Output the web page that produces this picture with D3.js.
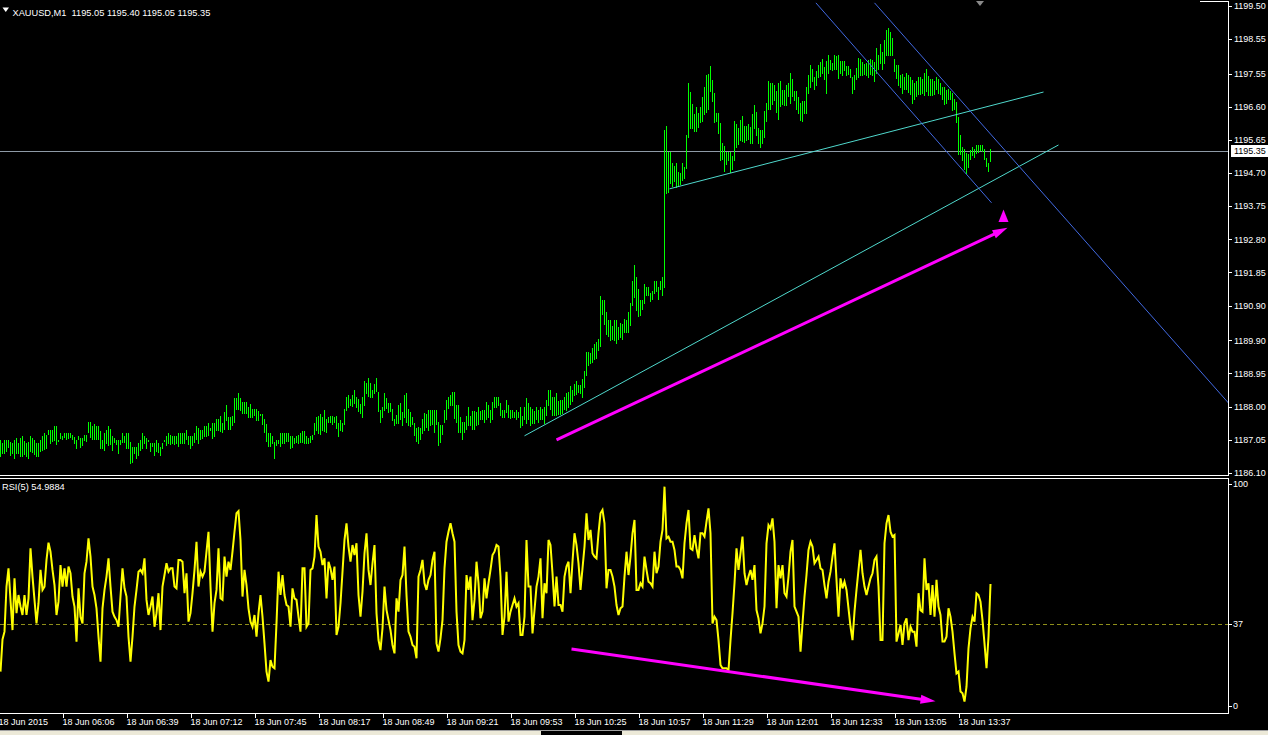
<!DOCTYPE html>
<html><head><meta charset="utf-8">
<script src="https://cdn.jsdelivr.net/npm/d3@7"></script>
<style>
html,body{margin:0;padding:0;background:#000;overflow:hidden}
svg{display:block}
text{font-family:"Liberation Sans",Arial,sans-serif;font-size:9px;fill:#fff;white-space:pre}
</style></head><body>
<svg id="c" width="1268" height="735"></svg>
<script>
// ---------------- DATA ----------------
const symbol = "XAUUSD,M1";
const lastOHLC = [1195.05, 1195.40, 1195.05, 1195.35];
const rsiName = "RSI(5)";
const rsiLast = "54.9884";

const highs = [
1187.04,1186.96,1187.04,1187.04,1187.04,1186.98,1186.96,1187.04,1187.10,1186.96,
1187.10,1187.15,1187.00,1186.96,1186.98,1187.15,1187.10,1187.04,1186.96,1186.96,
1187.04,1187.15,1187.23,1187.17,1187.34,1187.34,1187.34,1187.44,1187.44,1187.04,
1187.23,1187.15,1187.23,1187.23,1187.23,1187.23,1187.17,1187.13,1187.04,1187.15,
1187.10,1187.10,1187.17,1187.17,1187.57,1187.57,1187.44,1187.50,1187.44,1187.44,
1187.29,1187.04,1187.23,1187.34,1187.44,1187.36,1187.15,1187.10,1187.04,1187.04,
1187.04,1187.23,1187.15,1187.23,1187.23,1186.98,1186.83,1186.83,1186.83,1186.94,
1187.04,1187.23,1187.15,1187.10,1187.04,1186.94,1186.94,1186.96,1187.04,1186.96,
1186.83,1186.94,1187.04,1187.15,1187.23,1187.17,1187.15,1187.15,1187.15,1187.23,
1187.23,1187.23,1187.23,1187.34,1187.15,1187.15,1187.15,1187.23,1187.44,1187.38,
1187.34,1187.34,1187.44,1187.44,1187.52,1187.38,1187.52,1187.52,1187.63,1187.63,
1187.73,1187.54,1187.84,1188.03,1187.69,1187.69,1187.73,1188.24,1188.24,1188.38,
1188.24,1188.13,1188.13,1188.13,1187.98,1188.07,1187.92,1187.92,1187.92,1187.88,
1187.78,1187.78,1187.63,1187.50,1187.25,1187.25,1187.15,1186.98,1187.04,1187.04,
1187.23,1187.23,1187.23,1187.23,1187.23,1187.15,1187.15,1187.10,1187.15,1187.17,
1187.25,1187.31,1187.29,1187.15,1187.10,1187.15,1187.17,1187.52,1187.69,1187.73,
1187.78,1187.69,1187.90,1187.63,1187.69,1187.73,1187.73,1187.71,1187.73,1187.54,
1187.61,1187.54,1187.92,1188.26,1188.32,1188.21,1188.34,1188.47,1188.26,1188.22,
1188.07,1188.28,1188.72,1188.67,1188.82,1188.68,1188.47,1188.65,1188.82,1188.42,
1187.90,1187.98,1188.38,1188.24,1188.11,1188.09,1187.92,1187.65,1187.75,1188.03,
1188.11,1187.84,1188.32,1188.38,1187.92,1187.84,1187.69,1187.54,1187.38,1187.42,
1187.38,1187.65,1187.80,1187.78,1187.90,1187.90,1187.90,1187.90,1187.90,1187.55,
1187.46,1187.46,1187.90,1188.19,1188.26,1188.34,1188.43,1188.43,1188.05,1188.03,
1187.71,1187.55,1187.55,1187.73,1188.00,1187.73,1187.86,1187.88,1187.84,1187.98,
1187.88,1187.90,1187.90,1188.13,1188.05,1187.90,1188.13,1188.28,1188.26,1188.26,
1188.09,1187.90,1187.90,1188.19,1188.05,1187.90,1187.90,1187.84,1187.90,1187.84,
1187.98,1187.73,1187.98,1188.24,1188.09,1187.98,1187.92,1187.88,1187.98,1187.90,
1187.98,1187.92,1187.98,1188.19,1188.47,1188.47,1188.28,1188.28,1188.38,1188.15,
1188.19,1188.19,1188.26,1188.40,1188.43,1188.59,1188.47,1188.65,1188.72,1188.63,
1188.63,1188.80,1189.01,1189.57,1189.57,1189.53,1189.68,1189.80,1189.85,1189.93,
1191.17,1191.06,1191.06,1190.71,1190.48,1190.48,1190.31,1190.48,1190.48,1190.27,
1190.41,1190.37,1190.52,1190.48,1190.71,1190.96,1191.59,1192.05,1191.71,1191.37,
1191.06,1191.06,1191.52,1191.44,1191.42,1191.27,1191.33,1191.59,1191.59,1191.44,
1191.59,1191.71,1195.95,1196.05,1195.31,1195.31,1194.98,1194.92,1194.98,1194.73,
1194.70,1194.98,1194.87,1195.79,1197.28,1197.03,1196.69,1196.40,1196.59,1196.44,
1196.59,1196.90,1197.16,1197.51,1197.55,1197.78,1197.38,1196.99,1196.44,1196.44,
1196.15,1195.58,1195.48,1195.31,1195.31,1195.31,1195.19,1196.21,1196.11,1196.00,
1196.23,1196.34,1196.05,1196.05,1196.11,1196.04,1196.40,1196.67,1196.46,1196.00,
1195.94,1195.94,1196.48,1196.71,1197.34,1197.30,1197.28,1197.24,1197.05,1197.30,
1197.36,1197.09,1197.09,1197.24,1197.28,1197.57,1197.39,1197.07,1197.07,1196.90,
1196.71,1196.76,1196.78,1197.18,1197.51,1197.82,1197.70,1197.47,1197.64,1197.82,
1197.89,1197.97,1197.74,1197.91,1198.08,1197.95,1197.85,1198.08,1198.06,1198.08,
1197.93,1197.91,1197.91,1197.78,1197.78,1197.68,1197.45,1197.53,1197.72,1198.01,
1197.97,1197.89,1197.83,1197.85,1197.95,1197.99,1197.95,1197.89,1198.30,1198.08,
1198.41,1198.18,1198.52,1198.81,1198.87,1198.75,1198.58,1197.97,1197.80,1197.80,
1197.51,1197.55,1197.47,1197.57,1197.53,1197.45,1197.38,1197.28,1197.34,1197.45,
1197.47,1197.41,1197.57,1197.68,1197.49,1197.39,1197.41,1197.34,1197.45,1197.41,
1197.28,1197.16,1197.16,1197.09,1197.13,1197.05,1196.99,1196.84,1196.74,1196.32,
1195.79,1195.46,1195.40,1195.27,1195.25,1195.37,1195.46,1195.40,1195.52,1195.52,
1195.50,1195.50,1195.40,1195.14,1195.00,1195.40
];
const lows = [
1186.58,1186.66,1186.67,1186.73,1186.83,1186.62,1186.67,1186.52,1186.67,1186.67,
1186.58,1186.58,1186.64,1186.58,1186.52,1186.73,1186.69,1186.64,1186.58,1186.58,
1186.73,1186.75,1186.79,1186.81,1187.21,1186.96,1187.00,1187.04,1186.92,1187.00,
1187.11,1187.06,1187.13,1187.06,1187.11,1187.13,1187.08,1186.96,1186.81,1187.06,
1186.83,1186.89,1187.04,1187.02,1187.27,1187.13,1187.06,1187.08,1187.06,1187.06,
1186.81,1186.81,1186.75,1186.96,1186.89,1186.92,1186.75,1186.98,1186.92,1186.67,
1186.92,1186.98,1186.98,1186.81,1186.81,1186.39,1186.41,1186.66,1186.52,1186.60,
1186.75,1186.81,1186.96,1186.81,1187.00,1186.73,1186.87,1186.60,1186.73,1186.69,
1186.60,1186.81,1187.00,1186.89,1186.96,1186.92,1186.94,1186.92,1186.94,1186.87,
1186.94,1186.96,1186.94,1187.06,1186.92,1186.81,1186.89,1186.98,1187.06,1186.94,
1187.08,1187.11,1187.15,1187.15,1187.19,1187.34,1187.11,1187.15,1187.33,1187.33,
1187.29,1187.27,1187.36,1187.61,1187.36,1187.36,1187.48,1187.55,1187.94,1187.94,
1187.90,1187.80,1187.80,1187.80,1187.71,1187.71,1187.71,1187.75,1187.61,1187.61,
1187.75,1187.50,1187.27,1187.02,1186.87,1186.87,1186.96,1186.52,1186.89,1186.94,
1186.87,1186.96,1186.96,1187.02,1187.00,1186.81,1186.83,1186.94,1186.98,1186.96,
1186.98,1186.98,1186.96,1186.96,1186.96,1186.98,1187.08,1187.21,1187.33,1187.25,
1187.21,1187.33,1187.31,1187.27,1187.55,1187.55,1187.50,1187.55,1187.38,1187.15,
1187.33,1187.31,1187.50,1187.90,1187.99,1188.05,1188.01,1188.11,1187.99,1187.86,
1187.80,1187.71,1188.03,1188.38,1188.30,1188.26,1188.28,1188.38,1188.45,1187.86,
1187.55,1187.71,1187.90,1187.96,1187.84,1187.88,1187.61,1187.48,1187.52,1187.52,
1187.65,1187.46,1187.71,1187.55,1187.48,1187.44,1187.50,1187.17,1187.02,1186.94,
1187.08,1187.25,1187.33,1187.42,1187.33,1187.46,1187.50,1187.27,1187.50,1186.89,
1186.98,1187.21,1187.55,1187.65,1187.96,1188.03,1188.03,1187.67,1187.57,1187.27,
1187.27,1187.08,1187.27,1187.36,1187.48,1187.48,1187.36,1187.36,1187.46,1187.50,
1187.63,1187.65,1187.55,1187.63,1187.71,1187.57,1187.65,1187.98,1188.00,1188.05,
1187.77,1187.69,1187.69,1187.84,1187.69,1187.67,1187.69,1187.69,1187.65,1187.69,
1187.40,1187.46,1187.63,1187.52,1187.63,1187.48,1187.54,1187.52,1187.63,1187.55,
1187.65,1187.65,1187.52,1187.77,1188.03,1187.92,1187.77,1187.77,1187.77,1187.78,
1187.78,1187.80,1187.92,1187.90,1188.00,1188.07,1188.15,1188.34,1188.36,1188.42,
1188.38,1188.28,1188.55,1188.91,1189.18,1189.24,1189.28,1189.36,1189.39,1189.62,
1189.74,1190.66,1190.37,1190.08,1190.03,1189.91,1189.93,1189.91,1189.81,1189.93,
1189.99,1189.95,1190.14,1190.14,1190.14,1190.33,1190.91,1191.15,1190.77,1190.60,
1190.64,1190.81,1190.98,1191.21,1191.21,1191.02,1191.08,1191.27,1191.31,1191.10,
1191.37,1191.21,1191.44,1194.14,1194.16,1194.43,1194.33,1194.47,1194.31,1194.33,
1194.39,1194.50,1194.56,1194.85,1195.73,1196.00,1196.00,1195.90,1195.92,1196.04,
1196.17,1196.19,1196.40,1196.46,1196.55,1197.07,1196.78,1196.17,1196.19,1195.86,
1195.08,1195.12,1194.77,1194.96,1195.08,1194.73,1194.83,1195.08,1195.44,1195.54,
1195.65,1195.63,1195.59,1195.65,1195.67,1195.58,1195.56,1196.00,1195.81,1195.56,
1195.44,1195.56,1195.75,1196.21,1196.53,1196.53,1196.69,1196.80,1196.46,1196.26,
1196.63,1196.69,1196.65,1196.67,1196.92,1196.71,1196.92,1196.80,1196.53,1196.44,
1196.23,1196.21,1196.42,1196.42,1196.99,1197.18,1197.34,1197.11,1197.22,1197.47,
1197.49,1197.57,1197.39,1197.01,1197.59,1197.70,1197.66,1197.68,1197.70,1197.43,
1197.57,1197.53,1197.66,1197.53,1197.55,1197.47,1197.01,1197.13,1197.39,1197.47,
1197.53,1197.51,1197.55,1197.51,1197.45,1197.55,1197.51,1197.34,1197.57,1197.70,
1197.85,1197.68,1197.85,1198.08,1198.08,1198.08,1198.10,1197.62,1197.43,1197.24,
1197.16,1196.99,1197.13,1197.13,1197.03,1196.97,1196.72,1196.84,1196.92,1196.97,
1196.97,1196.99,1196.94,1197.05,1196.95,1196.95,1196.95,1196.97,1197.11,1196.99,
1196.97,1196.82,1196.69,1196.72,1196.82,1196.84,1196.51,1196.53,1196.17,1195.25,
1195.25,1195.08,1194.83,1194.70,1194.89,1195.12,1195.23,1195.17,1195.27,1195.31,
1195.37,1195.33,1195.12,1194.92,1194.77,1195.05
];
const rsi = [
15.5,30.0,33.5,53.8,62.0,47.7,34.2,57.5,41.8,50.0,
44.8,41.0,50.0,41.0,48.5,71.0,58.3,47.8,37.2,46.3,
61.3,52.3,53.8,65.8,73.6,69.5,61.3,54.5,41.0,47.0,
63.5,53.8,62.0,53.8,62.8,59.8,49.3,44.8,29.0,53.0,
40.2,37.2,59.8,65.0,75.5,67.3,53.8,50.0,44.0,31.2,
20.0,44.0,52.3,58.3,66.5,53.8,42.5,40.2,38.7,35.7,
49.3,62.0,53.0,49.3,31.2,20.0,31.2,44.8,52.3,60.5,
61.3,59.8,66.5,47.8,41.0,44.8,49.3,35.7,41.8,50.8,
34.2,53.8,59.0,64.3,60.5,62.0,62.0,53.8,53.0,65.8,
65.8,65.0,50.8,59.8,38.0,41.8,50.8,61.3,74.0,53.8,
60.5,58.3,60.5,69.5,78.5,53.8,33.5,46.3,52.3,71.0,
48.5,47.8,67.3,58.3,65.0,61.3,69.5,78.5,86.8,87.8,
74.8,49.3,61.3,54.5,44.0,38.0,35.7,41.0,31.2,41.8,
50.0,40.2,28.2,15.5,11.0,20.7,17.7,17.0,37.2,60.5,
50.0,59.0,50.0,45.5,44.8,35.7,53.0,48.5,47.8,40.2,
33.5,62.0,62.0,35.7,37.2,61.3,62.0,67.3,86.0,71.8,
69.5,63.5,66.5,48.5,65.0,62.0,56.8,62.8,32.0,35.7,
46.3,60.5,74.8,82.3,71.8,65.0,72.5,68.0,73.3,50.0,
40.2,51.5,68.8,77.8,61.3,54.5,64.3,72.5,41.8,29.7,
25.2,35.0,53.8,43.3,38.7,34.2,27.5,23.7,48.5,42.5,
56.8,59.0,71.8,50.0,33.5,31.2,27.5,26.7,21.5,58.3,
61.3,65.8,55.3,52.3,56.8,59.0,65.8,69.5,28.2,24.5,
30.5,38.7,62.0,74.0,78.5,82.3,77.8,74.0,42.5,27.5,
24.5,23.7,29.7,59.0,52.3,58.3,38.7,47.8,65.0,55.3,
39.5,42.5,57.5,48.5,55.3,61.3,
68.0,69.5,72.5,71.8,58.3,32.0,40.2,60.5,38.0,42.5,
45.5,48.5,44.8,46.3,32.0,32.0,40.2,74.8,53.8,53.8,
32.7,43.2,53.8,58.3,66.5,39.5,55.3,50.8,74.8,72.5,
59.8,44.8,58.3,45.5,45.5,42.5,58.3,62.8,65.0,50.8,
65.0,77.8,72.5,64.3,52.3,62.0,71.8,86.8,74.8,79.3,
68.8,67.3,66.5,77.8,86.8,88.3,82.3,53.0,61.3,61.3,
58.3,53.8,45.5,41.0,44.0,44.8,58.3,69.5,59.0,67.3,
77.8,83.8,52.3,52.3,55.3,53.8,67.3,61.3,56.0,55.3,
53.8,69.5,59.8,62.8,74.0,79.3,98.8,75.5,76.3,74.0,
74.0,70.3,62.8,62.8,61.3,57.5,73.3,82.3,88.3,71.0,
70.3,77.0,71.0,66.5,77.8,77.8,76.3,83.0,89.0,77.8,
37.2,40.2,38.7,29.7,18.5,17.0,17.0,17.0,16.2,29.7,
41.8,55.3,71.0,61.3,68.8,76.3,59.8,54.5,58.3,61.3,
56.8,63.5,43.2,39.5,32.7,37.2,44.8,73.3,81.5,80.0,
84.5,74.0,44.0,63.5,57.5,63.5,50.8,49.3,58.3,69.5,
74.8,44.8,42.5,40.2,24.5,37.2,49.3,59.0,70.3,74.0,
71.8,64.3,65.8,67.3,62.0,61.3,54.5,48.5,56.0,60.5,
67.3,73.3,56.8,40.2,57.5,53.0,56.0,52.3,44.0,35.7,
29.7,42.5,52.3,61.3,70.3,59.8,53.8,50.0,53.8,57.5,
59.8,65.8,67.3,53.8,29.7,29.7,73.3,82.3,86.0,78.5,
76.3,77.0,29.0,32.7,36.5,27.5,37.2,39.5,29.7,35.7,
33.5,33.5,26.7,50.8,43.2,42.5,66.5,52.3,55.3,41.0,
54.5,40.2,56.8,44.8,41.0,29.0,29.0,31.2,44.0,40.2,
33.5,23.7,14.7,15.5,6.5,5.7,2.0,8.7,26.0,35.0,
40.2,38.0,50.8,50.0,47.0,38.7,28.2,17.0,31.2,54.99
];

const priceTicks = [1199.50,1198.55,1197.55,1196.60,1195.65,1194.70,1193.75,1192.80,1191.85,1190.90,1189.90,1188.95,1188.00,1187.05,1186.10];
const rsiTicks = [100, 37, 0];
const rsiLevel = 37;
const timeLabels = ["18 Jun 2015","18 Jun 06:06","18 Jun 06:39","18 Jun 07:12","18 Jun 07:45","18 Jun 08:17","18 Jun 08:49","18 Jun 09:21","18 Jun 09:53","18 Jun 10:25","18 Jun 10:57","18 Jun 11:29","18 Jun 12:01","18 Jun 12:33","18 Jun 13:05","18 Jun 13:37"];
const timeLabelBars = [-1,31,63,95,127,159,191,223,255,287,319,351,383,415,447,479];

// drawn objects, in (bar index, price) / (bar index, rsi) units
const cyanLines = [[334.5,1194.25,521.5,1197.03],[262,1187.16,529,1195.51]];
const blueLines = [[407.7,1199.59,495.5,1193.85],[437,1199.59,614,1188.10]];
const priceArrow = [278,1187.04,503.5,1193.13];
const rsiArrow = [285.5,25.7,467.5,2.1];
const upMark = [501.5,1193.66,1193.30];

// ---------------- DRAW ----------------
const svg = d3.select("#c");
const R = 1228, mainTop = 2, mainBot = 475, rsiTop = 478, rsiBot = 713;
const x = d3.scaleLinear().domain([0,614]).range([0.5,1228.5]);
const yP = d3.scaleLinear().domain([1186.10,1199.50]).range([472.7,6]);
const yR = d3.scaleLinear().domain([0,100]).range([706,484]);

const defs = svg.append("defs");
defs.append("clipPath").attr("id","cm").append("rect").attr("x",0).attr("y",mainTop).attr("width",R).attr("height",mainBot-mainTop);
defs.append("clipPath").attr("id","cr").append("rect").attr("x",0).attr("y",rsiTop).attr("width",R).attr("height",rsiBot-rsiTop);

svg.append("rect").attr("width",1268).attr("height",735).attr("fill","#000");

const gM = svg.append("g").attr("clip-path","url(#cm)");
const gR = svg.append("g").attr("clip-path","url(#cr)");

// bid line
gM.append("line").attr("x1",0).attr("x2",R).attr("y1",Math.round(yP(lastOHLC[3]))+0.5).attr("y2",Math.round(yP(lastOHLC[3]))+0.5)
  .attr("stroke","#8e9aa6").attr("stroke-width",1);

// bars
gM.selectAll("rect.bar").data(highs).join("rect").attr("class","bar")
  .attr("x",(d,i)=>Math.round(x(i)-0.5)).attr("width",1)
  .attr("y",d=>Math.round(yP(d)))
  .attr("height",(d,i)=>Math.max(1,Math.round(yP(lows[i]))-Math.round(yP(d))+1))
  .attr("fill","#00ff00").attr("shape-rendering","crispEdges");

// trend lines
function seg(g, arr, color){
  g.selectAll(null).data(arr).join("line")
   .attr("x1",d=>x(d[0])).attr("y1",d=>yP(d[1])).attr("x2",d=>x(d[2])).attr("y2",d=>yP(d[3]))
   .attr("stroke",color).attr("stroke-width",1);
}
seg(gM, cyanLines, "#4fd8cc");
seg(gM, blueLines, "#4169e1");

function arrow(g, x1,y1,x2,y2){
  const dx=x2-x1, dy=y2-y1, L=Math.hypot(dx,dy), ux=dx/L, uy=dy/L, nx=-uy, ny=ux;
  const hl=15, hw=4.5;
  const bx=x2-ux*hl, by=y2-uy*hl;
  g.append("line").attr("x1",x1).attr("y1",y1).attr("x2",bx+ux*2).attr("y2",by+uy*2)
   .attr("stroke","#ff00ff").attr("stroke-width",3);
  g.append("path").attr("d",`M${x2},${y2}L${bx+nx*hw},${by+ny*hw}L${bx-nx*hw},${by-ny*hw}Z`).attr("fill","#ff00ff");
}
arrow(gM, x(priceArrow[0]), yP(priceArrow[1]), x(priceArrow[2]), yP(priceArrow[3]));
{
  const cx = x(upMark[0]), t = yP(upMark[1]), b = yP(upMark[2]);
  gM.append("path").attr("d",`M${cx},${t}L${cx+5},${b}L${cx-5},${b}Z`).attr("fill","#ff00ff");
}

// RSI
gR.append("line").attr("x1",0).attr("x2",R).attr("y1",Math.round(yR(rsiLevel))+0.5).attr("y2",Math.round(yR(rsiLevel))+0.5)
  .attr("stroke","#8f8f1a").attr("stroke-dasharray","4,3");
gR.append("path").datum(rsi)
  .attr("d",d3.line().x((d,i)=>x(i)).y(d=>yR(d)))
  .attr("fill","none").attr("stroke","#ffff00").attr("stroke-width",2).attr("stroke-linejoin","miter");
arrow(gR, x(rsiArrow[0]), yR(rsiArrow[1]), x(rsiArrow[2]), yR(rsiArrow[3]));

// frames
const fr = svg.append("g").attr("stroke","#fff").attr("stroke-width",1).attr("shape-rendering","crispEdges");
fr.append("line").attr("x1",1200).attr("x2",R+0.5).attr("y1",1.5).attr("y2",1.5);
fr.append("line").attr("x1",0).attr("x2",R+0.5).attr("y1",mainBot+0.5).attr("y2",mainBot+0.5);
fr.append("line").attr("x1",0).attr("x2",R+0.5).attr("y1",rsiTop+0.5).attr("y2",rsiTop+0.5);
fr.append("line").attr("x1",0).attr("x2",R+0.5).attr("y1",rsiBot+0.5).attr("y2",rsiBot+0.5);
fr.append("line").attr("x1",R+0.5).attr("x2",R+0.5).attr("y1",1.5).attr("y2",mainBot+0.5);
fr.append("line").attr("x1",R+0.5).attr("x2",R+0.5).attr("y1",rsiTop+0.5).attr("y2",rsiBot+0.5);

// price axis
const pa = svg.append("g");
pa.selectAll("line").data(priceTicks).join("line")
  .attr("x1",R).attr("x2",R+4).attr("y1",d=>Math.round(yP(d))+0.5).attr("y2",d=>Math.round(yP(d))+0.5)
  .attr("stroke","#fff").attr("shape-rendering","crispEdges");
pa.selectAll("text").data(priceTicks).join("text")
  .attr("x",1234).attr("y",d=>yP(d)+3.2).text(d=>d.toFixed(2));
// current price box
{
  const yc = yP(lastOHLC[3]);
  svg.append("rect").attr("x",1231).attr("y",Math.round(yc)-6).attr("width",37).attr("height",12).attr("fill","#fff");
  svg.append("text").attr("x",1234).attr("y",yc+3.2).style("fill","#000").text(lastOHLC[3].toFixed(2));
}

// rsi axis
const ra = svg.append("g");
ra.selectAll("line").data(rsiTicks).join("line")
  .attr("x1",R).attr("x2",R+4).attr("y1",d=>Math.round(yR(d))+0.5).attr("y2",d=>Math.round(yR(d))+0.5)
  .attr("stroke","#fff").attr("shape-rendering","crispEdges");
ra.selectAll("text").data(rsiTicks).join("text")
  .attr("x",1233).attr("y",d=>yR(d)+3.2).text(d=>String(d));

// time axis
const ta = svg.append("g");
ta.selectAll("line").data(timeLabelBars).join("line")
  .attr("x1",d=>Math.round(x(d))+0.5).attr("x2",d=>Math.round(x(d))+0.5).attr("y1",rsiBot).attr("y2",rsiBot+5)
  .attr("stroke","#fff").attr("shape-rendering","crispEdges");
ta.selectAll("text").data(timeLabels).join("text")
  .attr("x",(d,i)=>x(timeLabelBars[i])).attr("y",725).text(d=>d);

// header
svg.append("path").attr("d","M2.5,7.5L9,7.5L5.75,12Z").attr("fill","#fff");
svg.append("text").attr("x",12.5).attr("y",15.5).style("font-size","9.25px")
  .text(symbol + "  " + lastOHLC.map(v=>v.toFixed(2)).join(" "));
svg.append("text").attr("x",2).attr("y",490).style("font-size","9.25px").text(rsiName + " " + rsiLast);

// shift marker
svg.append("path").attr("d","M976,1L984,1L980,6Z").attr("fill","#8a8a8a");

// bottom tab strip
svg.append("rect").attr("x",0).attr("y",731).attr("width",541).attr("height",4).attr("fill","#ece9d8");
svg.append("rect").attr("x",622).attr("y",731).attr("width",646).attr("height",4).attr("fill","#ece9d8");
svg.append("line").attr("x1",0).attr("x2",1268).attr("y1",730.5).attr("y2",730.5).attr("stroke","#a0a0a0");
</script>
</body></html>
